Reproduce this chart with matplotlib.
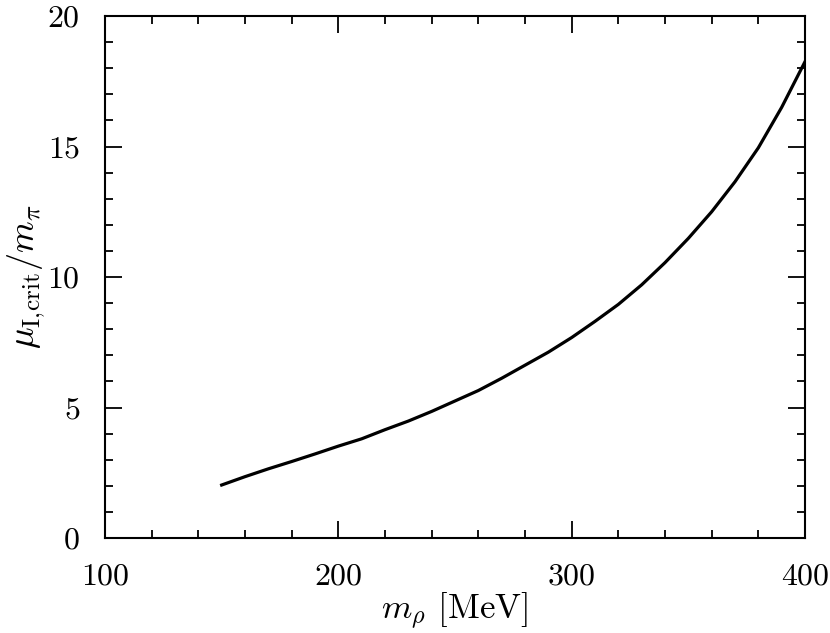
import matplotlib
matplotlib.use("Agg")
import matplotlib.pyplot as plt
from matplotlib.ticker import MultipleLocator

m_rho = [150, 160, 170, 180, 190, 200, 210, 220, 230, 240, 250, 260, 270, 280,
         290, 300, 310, 320, 330, 340, 350, 360, 370, 380, 390, 400]
mu_crit = [2.03, 2.35, 2.65, 2.93, 3.22, 3.52, 3.80, 4.15, 4.48, 4.85, 5.25, 5.65,
           6.12, 6.62, 7.12, 7.68, 8.30, 8.95, 9.70, 10.55, 11.48, 12.50, 13.65,
           14.95, 16.50, 18.25]

plt.rcParams['font.family'] = 'serif'
plt.rcParams['font.serif'] = ['cmr10']
plt.rcParams['mathtext.fontset'] = 'cm'
plt.rcParams['axes.formatter.use_mathtext'] = True

fig = plt.figure(figsize=(8.3, 6.33), dpi=100)
ax = fig.add_axes([105/830, 95/633, 700/830, 522/633])
ax.plot(m_rho, mu_crit, color='black', lw=2.3)
ax.set_xlim(100, 400)
ax.set_ylim(0, 20)
ax.xaxis.set_major_locator(MultipleLocator(100))
ax.xaxis.set_minor_locator(MultipleLocator(20))
ax.yaxis.set_major_locator(MultipleLocator(5))
ax.yaxis.set_minor_locator(MultipleLocator(1))
ax.tick_params(which='both', direction='in', top=True, right=True, labelsize=23, width=1.3)
ax.tick_params(which='major', length=12, pad=18)
ax.tick_params(which='minor', length=6)
for s in ax.spines.values():
    s.set_linewidth(1.5)
ax.set_xlabel(r'$m_\rho$ [MeV]', fontsize=25, labelpad=0)
ax.set_ylabel(r'$\mu_{\mathrm{I,\!crit}}/m_\pi$', fontsize=26, labelpad=0)
fig.savefig('out.png', dpi=100)
